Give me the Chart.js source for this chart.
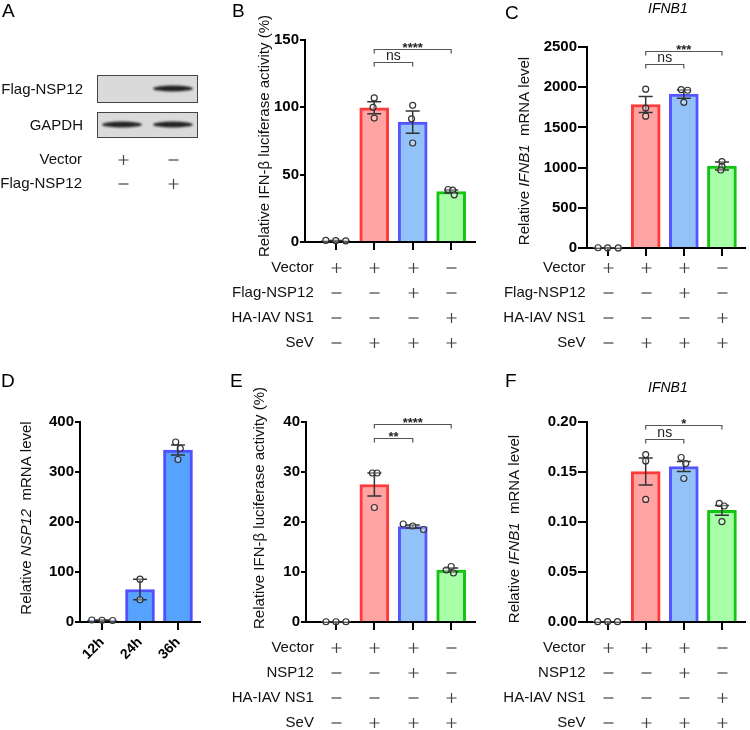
<!DOCTYPE html>
<html>
<head>
<meta charset="utf-8">
<script src="https://cdn.jsdelivr.net/npm/chart.js@4.4.1/dist/chart.umd.min.js"></script>
<style>
  body { margin: 0; background: #fff; font-family: Arial, "Liberation Sans", sans-serif; }
  #fig { position: relative; width: 750px; height: 730px; overflow: hidden; }
  canvas { position: absolute; }
  .letter { position: absolute; font-size: 19px; color: #000; }
  .gene { position: absolute; font-size: 14px; font-style: italic; color: #000; }
</style>
</head>
<body>
<div id="fig">
  <canvas id="blot" width="225" height="200" style="left:0;top:0"></canvas>
  <canvas id="chartB" width="270" height="365" style="left:225px;top:0"></canvas>
  <canvas id="chartC" width="255" height="365" style="left:495px;top:0"></canvas>
  <canvas id="chartD" width="225" height="360" style="left:0;top:370px"></canvas>
  <canvas id="chartE" width="270" height="360" style="left:225px;top:370px"></canvas>
  <canvas id="chartF" width="255" height="360" style="left:495px;top:370px"></canvas>

  <div class="letter" style="left:2px;top:0px">A</div>
  <div class="letter" style="left:232px;top:0px">B</div>
  <div class="letter" style="left:505px;top:2px">C</div>
  <div class="letter" style="left:1px;top:370px">D</div>
  <div class="letter" style="left:230px;top:370px">E</div>
  <div class="letter" style="left:505px;top:370px">F</div>
  <div class="gene" style="left:648px;top:0px">IFNB1</div>
  <div class="gene" style="left:648px;top:379px">IFNB1</div>
</div>

<script>
const FAM = 'Arial, "Liberation Sans", Helvetica, sans-serif';
Chart.defaults.font.family = FAM;
Chart.defaults.color = '#000';

// ---- data ----
const groups = ['Mock', 'SeV', 'SeV + NSP12', 'SeV + NS1'];
const times = ['12h', '24h', '36h'];

const rowsFlag = ['Vector', 'Flag-NSP12', 'HA-IAV NS1', 'SeV'];
const rowsPlain = ['Vector', 'NSP12', 'HA-IAV NS1', 'SeV'];
const signs = [
  ['+', '+', '+', '-'],
  ['-', '-', '+', '-'],
  ['-', '-', '-', '+'],
  ['-', '+', '+', '+']
];

// B: luciferase, Flag-NSP12
const bMeans = [1, 99.7, 89, 37.5];
const bSem = [0.1, 4.4, 8.3, 1.2];
const bPoints = [[1.2, 1.0, 0.9], [107, 100, 92], [101.5, 91.5, 73.5], [39, 38.5, 35]];
const bJitter = [[-0.26, 0, 0.26], [0, -0.03, 0], [0, -0.03, 0], [-0.08, 0.04, 0.08]];
const bTicks = [0, 50, 100, 150];
const bSig = [{ a: 1, b: 2, y: 134, t: 'ns' }, { a: 1, b: 3, y: 143, t: '****' }];

// C: IFNB1 mRNA, Flag-NSP12
const cMeans = [2, 1785, 1915, 1020];
const cSem = [1, 100, 51, 50];
const cPoints = [[3, 2, 1], [1975, 1740, 1640], [1970, 1962, 1812], [1075, 1015, 970]];
const cJitter = [[-0.25, 0, 0.28], [0, 0, 0], [-0.07, 0.1, 0], [0, 0, -0.03]];
const cTicks = [0, 500, 1000, 1500, 2000, 2500];
const cSig = [{ a: 1, b: 2, y: 2293, t: 'ns' }, { a: 1, b: 3, y: 2446, t: '***' }];

// D: NSP12 mRNA over time
const dMeans = [3.5, 65, 344];
const dSem = [0.5, 20.6, 10];
const dPoints = [[4, 3.5, 3], [85.7, 44.5], [360, 347, 325]];
const dJitter = [[-0.27, 0, 0.28], [0, 0], [-0.06, 0.06, 0]];
const dTicks = [0, 100, 200, 300, 400];

// E: luciferase, NSP12
const eMeans = [0.05, 27.5, 19.1, 10.4];
const eSem = [0, 2.3, 0.3, 0.4];
const ePoints = [[0.05, 0.05, 0.05], [29.8, 29.8, 22.9], [19.6, 19.2, 18.5], [11.1, 10.4, 9.8]];
const eJitter = [[-0.26, 0, 0.26], [-0.05, 0.07, 0], [-0.25, 0, 0.28], [0, -0.13, 0.06]];
const eTicks = [0, 10, 20, 30, 40];
const eSig = [{ a: 1, b: 2, y: 36.7, t: '**' }, { a: 1, b: 3, y: 39.5, t: '****' }];

// F: IFNB1 mRNA, NSP12
const fMeans = [0.0003, 0.1504, 0.1555, 0.1116];
const fSem = [0, 0.0135, 0.005, 0.0048];
const fPoints = [[0.0003, 0.0003, 0.0003], [0.1674, 0.1611, 0.1226], [0.1645, 0.1585, 0.1435], [0.1186, 0.116, 0.1003]];
const fJitter = [[-0.26, 0, 0.26], [0, 0, 0], [-0.07, 0.05, 0], [-0.07, 0.06, 0]];
const fTicks = [0, 0.05, 0.10, 0.15, 0.20];
const fSig = [{ a: 1, b: 2, y: 0.1827, t: 'ns' }, { a: 1, b: 3, y: 0.1967, t: '*' }];

const fills4 = ['#bbbbbb', '#ffa3a3', '#93c2f8', '#a8ffa8'];
const borders4 = ['#666666', '#ff3a3a', '#5656ff', '#14c414'];
const fills3 = ['#55a2ff', '#55a2ff', '#55a2ff'];
const borders3 = ['#5050ff', '#5050ff', '#5050ff'];

const ink = '#333';

// error bars, brackets, axis title and the +/- table
const decor = {
  id: 'decor',
  afterDatasetDraw(chart, args, o) {
    if (args.index !== 0) return;
    const { ctx, scales: { x, y } } = chart;
    ctx.save();
    ctx.strokeStyle = ink;
    ctx.lineWidth = 1.5;
    o.means.forEach((m, i) => {
      const px = x.getPixelForValue(i);
      const top = y.getPixelForValue(m + o.sem[i]);
      const bot = y.getPixelForValue(Math.max(0, m - o.sem[i]));
      ctx.beginPath();
      ctx.moveTo(px, top); ctx.lineTo(px, bot);
      ctx.moveTo(px - 7, top); ctx.lineTo(px + 7, top);
      ctx.moveTo(px - 7, bot); ctx.lineTo(px + 7, bot);
      ctx.stroke();
    });
    ctx.restore();
  },
  afterDraw(chart, args, o) {
    const { ctx, chartArea, scales: { x, y } } = chart;
    ctx.save();

    // significance brackets
    (o.sig || []).forEach(s => {
      const x1 = x.getPixelForValue(s.a), x2 = x.getPixelForValue(s.b);
      const py = Math.round(y.getPixelForValue(s.y)) + 0.5;
      ctx.strokeStyle = '#555';
      ctx.lineWidth = 1.2;
      ctx.beginPath();
      ctx.moveTo(x1, py + 4); ctx.lineTo(x1, py); ctx.lineTo(x2, py); ctx.lineTo(x2, py + 4);
      ctx.stroke();
      ctx.fillStyle = '#222';
      ctx.textAlign = 'center';
      ctx.textBaseline = 'alphabetic';
      ctx.font = s.t === 'ns' ? '14px ' + FAM : 'bold 13px ' + FAM;
      ctx.fillText(s.t, (x1 + x2) / 2, s.t === 'ns' ? py - 3 : py + 2);
    });

    // rotated y title with italic gene names
    ctx.save();
    ctx.translate(chartArea.left - o.titleDx, o.titleY);
    ctx.rotate(-Math.PI / 2);
    ctx.fillStyle = '#111';
    ctx.textAlign = 'left';
    ctx.textBaseline = 'middle';
    let total = 0;
    o.title.forEach(seg => {
      ctx.font = (seg.it ? 'italic ' : '') + '15px ' + FAM;
      seg.w = ctx.measureText(seg.t).width;
      total += seg.w;
    });
    let cx = -total / 2;
    o.title.forEach(seg => {
      ctx.font = (seg.it ? 'italic ' : '') + '15px ' + FAM;
      ctx.fillText(seg.t, cx, 0);
      cx += seg.w;
    });
    ctx.restore();

    // condition table
    if (o.rows) {
      const x0 = x.getPixelForValue(0);
      o.rows.forEach((name, r) => {
        const ty = chartArea.bottom + o.rowStart + r * 25;
        ctx.font = '15px ' + FAM;
        ctx.fillStyle = '#111';
        ctx.textAlign = 'right';
        ctx.textBaseline = 'middle';
        ctx.fillText(name, x0 - 22, ty);
        ctx.strokeStyle = '#444';
        ctx.lineWidth = 1.2;
        o.signs[r].forEach((s, i) => {
          const px = Math.round(x.getPixelForValue(i)) + 0.5;
          ctx.beginPath();
          ctx.moveTo(px - 5, ty); ctx.lineTo(px + 5, ty);
          if (s === '+') { ctx.moveTo(px, ty - 5); ctx.lineTo(px, ty + 5); }
          ctx.stroke();
        });
      });
    }
    ctx.restore();
  }
};

function makePanel(id, p) {
  const bars = p.means.map((m, i) => ({ x: i, y: m }));
  const pts = [];
  p.points.forEach((g, i) => g.forEach((v, k) => pts.push({ x: i + p.jitter[i][k], y: v })));

  return new Chart(document.getElementById(id), {
    type: 'bar',
    data: {
      datasets: [{
        type: 'bar',
        order: 2,
        data: bars,
        backgroundColor: p.fills,
        borderColor: p.borders,
        borderWidth: 3,
        barThickness: 29
      }, {
        type: 'scatter',
        order: 1,
        data: pts,
        pointRadius: 3,
        borderWidth: 1.2,
        borderColor: ink,
        backgroundColor: 'rgba(255,255,255,0.35)',
        clip: false
      }]
    },
    options: {
      responsive: false,
      animation: false,
      events: [],
      layout: { padding: { top: p.top, right: p.right, left: 0, bottom: 0 } },
      scales: {
        x: {
          type: 'linear',
          offset: false,
          min: p.xMin,
          max: p.xMax,
          z: 1,
          afterBuildTicks: s => { s.ticks = p.cats.map((c, i) => ({ value: i })); },
          afterFit: s => { s.height = p.xHeight; },
          grid: { display: true, offset: false, drawOnChartArea: false, drawTicks: true, tickLength: 8, color: '#000', lineWidth: 2 },
          border: { display: true, color: '#000', width: 2 },
          ticks: {
            callback: (v, i) => p.showCats ? p.cats[i] : '',
            font: { size: 14, weight: 'bold' },
            color: '#000',
            minRotation: p.rot || 0,
            maxRotation: p.rot || 0,
            padding: 4
          }
        },
        y: {
          min: 0,
          max: p.yTicks[p.yTicks.length - 1],
          afterBuildTicks: s => { s.ticks = p.yTicks.map(v => ({ value: v })); },
          afterFit: s => { s.width = p.yWidth; },
          grid: { display: true, drawOnChartArea: false, drawTicks: true, tickLength: p.yTick, color: '#000', lineWidth: 2 },
          border: { display: true, color: '#000', width: 2 },
          ticks: {
            callback: v => p.yDec ? v.toFixed(p.yDec) : v,
            font: { size: 15, weight: 'bold' },
            color: '#000',
            padding: 1
          }
        }
      },
      plugins: {
        legend: { display: false },
        tooltip: { enabled: false },
        decor: {
          means: p.means, sem: p.sem, sig: p.sig,
          title: p.title, titleDx: p.titleDx, titleY: p.titleY,
          rows: p.rows, signs: signs, rowStart: p.rowStart
        }
      }
    },
    plugins: [decor]
  });
}

makePanel('chartB', {
  cats: groups, means: bMeans, sem: bSem, points: bPoints, jitter: bJitter, yTicks: bTicks, sig: bSig,
  fills: fills4, borders: borders4,
  top: 40, right: 20, yWidth: 80, xHeight: 123, xMin: -0.8, xMax: 3.62, yTick: 5,
  title: [{ t: 'Relative IFN-\u03b2 luciferase activity (%)' }], titleDx: 40, titleY: 136,
  rows: rowsFlag, rowStart: 26
});

makePanel('chartC', {
  cats: groups, means: cMeans, sem: cSem, points: cPoints, jitter: cJitter, yTicks: cTicks, sig: cSig,
  fills: fills4, borders: borders4,
  top: 47, right: 2, yWidth: 92, xHeight: 117, xMin: -0.54, xMax: 3.6, yTick: 9,
  title: [{ t: 'Relative ' }, { t: 'IFNB1', it: true }, { t: '  mRNA level' }], titleDx: 62, titleY: 151,
  rows: rowsFlag, rowStart: 20
});

makePanel('chartD', {
  cats: times, showCats: true, rot: 45, means: dMeans, sem: dSem, points: dPoints, jitter: dJitter, yTicks: dTicks,
  fills: fills3, borders: borders3,
  top: 52, right: 25, yWidth: 80, xHeight: 108, xMin: -0.58, xMax: 2.58, yTick: 5,
  title: [{ t: 'Relative ' }, { t: 'NSP12', it: true }, { t: '  mRNA level' }], titleDx: 53, titleY: 148
});

makePanel('chartE', {
  cats: groups, means: eMeans, sem: eSem, points: ePoints, jitter: eJitter, yTicks: eTicks, sig: eSig,
  fills: fills4, borders: borders4,
  top: 52, right: 20, yWidth: 81, xHeight: 108, xMin: -0.78, xMax: 3.62, yTick: 5,
  title: [{ t: 'Relative IFN-\u03b2 luciferase activity (%)' }], titleDx: 46, titleY: 138,
  rows: rowsPlain, rowStart: 26
});

makePanel('chartF', {
  cats: groups, means: fMeans, sem: fSem, points: fPoints, jitter: fJitter, yTicks: fTicks, sig: fSig,
  fills: fills4, borders: borders4, yDec: 2,
  top: 52, right: 2, yWidth: 92, xHeight: 108, xMin: -0.54, xMax: 3.6, yTick: 9,
  title: [{ t: 'Relative ' }, { t: 'IFNB1', it: true }, { t: '  mRNA level' }], titleDx: 72, titleY: 159,
  rows: rowsPlain, rowStart: 26
});

// ---- panel A: western blot sketch ----
const blotLanes = ['Vector', 'Flag-NSP12'];
const flagBand = [0, 1];
const gapdhBand = [1, 1];
const blotSigns = [['+', '-'], ['-', '+']];

(function drawBlot() {
  const ctx = document.getElementById('blot').getContext('2d');
  const laneX = [123, 173];
  function box(y0, h, bands, label) {
    ctx.fillStyle = '#dadada';
    ctx.fillRect(97, y0, 101, h);
    ctx.strokeStyle = '#444';
    ctx.lineWidth = 1;
    ctx.strokeRect(97.5, y0 + 0.5, 100, h);
    ctx.save();
    ctx.filter = 'blur(1.2px)';
    bands.forEach((b, i) => {
      if (!b) return;
      ctx.fillStyle = 'rgba(20,20,20,0.92)';
      ctx.beginPath();
      ctx.ellipse(laneX[i] + (i ? 0 : -1), y0 + h / 2, 20, 3, 0, 0, Math.PI * 2);
      ctx.fill();
    });
    ctx.restore();
    ctx.fillStyle = '#111';
    ctx.font = '15px ' + FAM;
    ctx.textAlign = 'right';
    ctx.textBaseline = 'middle';
    ctx.fillText(label, 83, y0 + h / 2 + 1);
  }
  box(75, 27, flagBand, 'Flag-NSP12');
  box(112, 25, gapdhBand, 'GAPDH');

  ctx.strokeStyle = '#444';
  ctx.lineWidth = 1.2;
  blotLanes.forEach((name, r) => {
    const ty = 160 + r * 24;
    ctx.fillStyle = '#111';
    ctx.fillText(name, 82, ty);
    blotSigns[r].forEach((s, i) => {
      const px = laneX[i] + 0.5;
      ctx.beginPath();
      ctx.moveTo(px - 5, ty); ctx.lineTo(px + 5, ty);
      if (s === '+') { ctx.moveTo(px, ty - 5); ctx.lineTo(px, ty + 5); }
      ctx.stroke();
    });
  });
})();
</script>
</body>
</html>
